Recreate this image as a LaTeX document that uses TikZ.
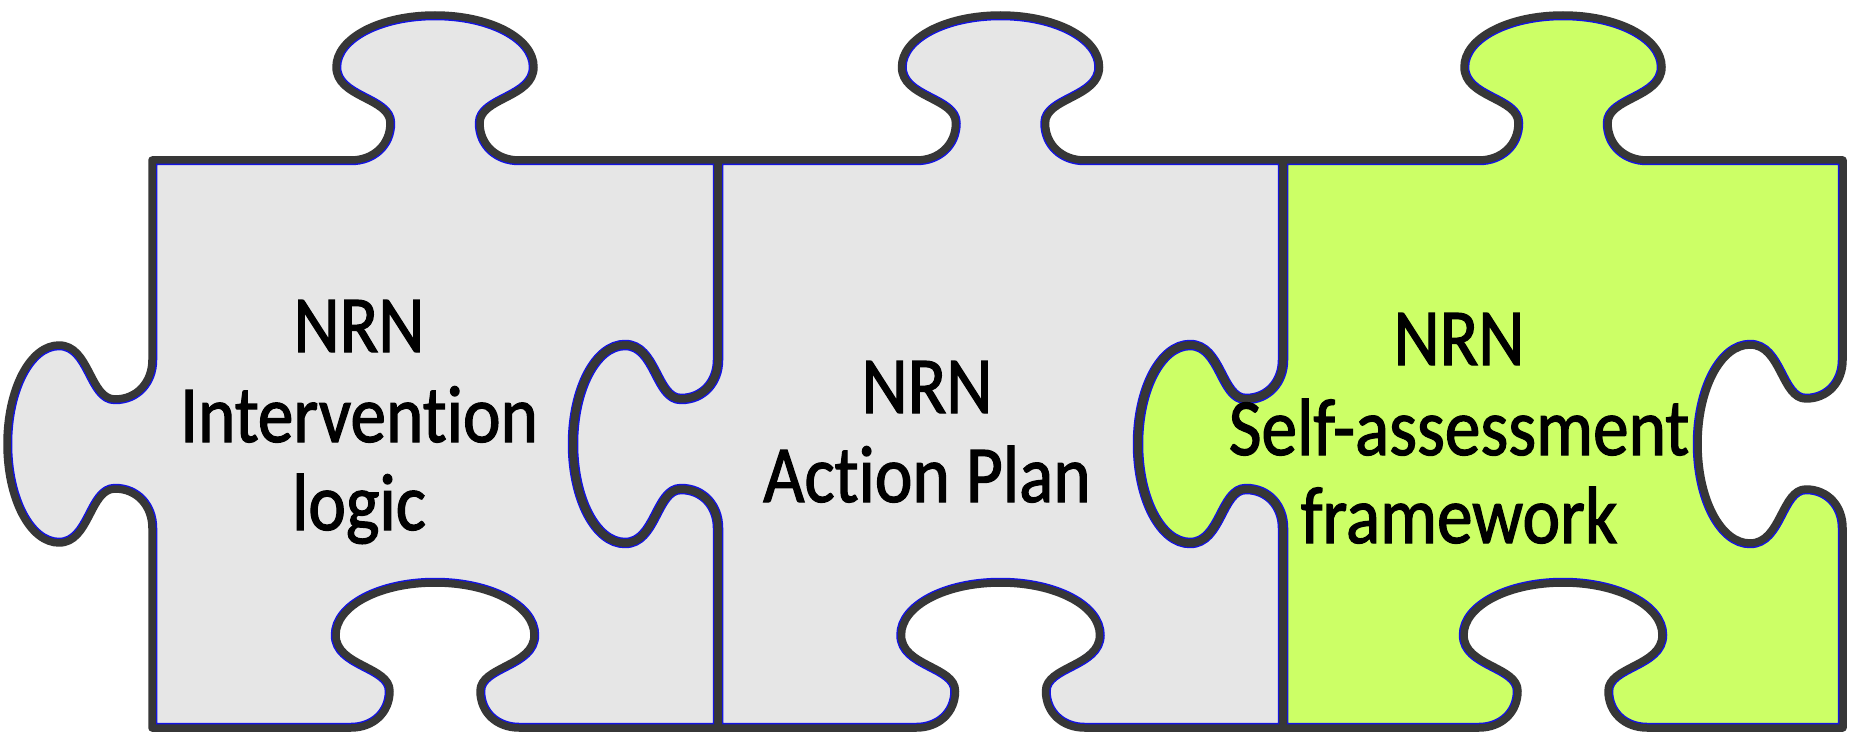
\documentclass[tikz,border=0pt]{standalone}
\usepackage{fontspec}
\setmainfont[Ligatures=NoCommon,FakeStretch=0.88,FakeBold=1.5]{Carlito}
\definecolor{piecegray}{RGB}{230,230,230}
\definecolor{piecegreen}{RGB}{204,255,102}
\definecolor{edgedark}{RGB}{55,55,55}
\definecolor{edgeblue}{RGB}{20,20,225}
\tikzset{
  pieceline/.style={draw=edgedark, line width=7.5pt, line join=round},
  blueline/.style={draw=edgeblue, line width=10.5pt, line join=round},
  lbl/.style={anchor=base, inner sep=0pt, text=black, font=\fontsize{81}{93}\selectfont}
}
\newcommand{\piecepath}{%
(0,0) -- ({\pcx-84},0)
.. controls ({\pcx-62},0) and ({\pcx-45},-15) .. ({\pcx-45},-37)
.. controls ({\pcx-45},-62) and ({\pcx-99},-62) .. ({\pcx-99},-93)
.. controls ({\pcx-99},-122) and ({\pcx-55},-145) .. (\pcx,-145)
.. controls ({\pcx+55},-145) and ({\pcx+99},-122) .. ({\pcx+99},-93)
.. controls ({\pcx+99},-62) and ({\pcx+45},-62) .. ({\pcx+45},-37)
.. controls ({\pcx+45},-15) and ({\pcx+62},0) .. ({\pcx+84},0)
-- (\pieceW,0)
-- (\pieceW,{\pcy-84})
.. controls (\pieceW,{\pcy-62}) and ({\pieceW-15},{\pcy-45}) .. ({\pieceW-37},{\pcy-45})
.. controls ({\pieceW-62},{\pcy-45}) and ({\pieceW-62},{\pcy-99}) .. ({\pieceW-93},{\pcy-99})
.. controls ({\pieceW-122},{\pcy-99}) and ({\pieceW-145},{\pcy-55}) .. ({\pieceW-145},\pcy)
.. controls ({\pieceW-145},{\pcy+55}) and ({\pieceW-122},{\pcy+99}) .. ({\pieceW-93},{\pcy+99})
.. controls ({\pieceW-62},{\pcy+99}) and ({\pieceW-62},{\pcy+45}) .. ({\pieceW-37},{\pcy+45})
.. controls ({\pieceW-15},{\pcy+45}) and (\pieceW,{\pcy+62}) .. (\pieceW,{\pcy+84})
-- (\pieceW,\pieceH)
-- ({\pcx+84},\pieceH)
.. controls ({\pcx+62},\pieceH) and ({\pcx+45},{\pieceH-15}) .. ({\pcx+45},{\pieceH-37})
.. controls ({\pcx+45},{\pieceH-62}) and ({\pcx+99},{\pieceH-62}) .. ({\pcx+99},{\pieceH-93})
.. controls ({\pcx+99},{\pieceH-122}) and ({\pcx+55},{\pieceH-145}) .. (\pcx,{\pieceH-145})
.. controls ({\pcx-55},{\pieceH-145}) and ({\pcx-99},{\pieceH-122}) .. ({\pcx-99},{\pieceH-93})
.. controls ({\pcx-99},{\pieceH-62}) and ({\pcx-45},{\pieceH-62}) .. ({\pcx-45},{\pieceH-37})
.. controls ({\pcx-45},{\pieceH-15}) and ({\pcx-62},\pieceH) .. ({\pcx-84},\pieceH)
-- (0,\pieceH)
-- (0,{\pcy+84})
.. controls (0,{\pcy+62}) and (-15,{\pcy+45}) .. (-37,{\pcy+45})
.. controls (-62,{\pcy+45}) and (-62,{\pcy+99}) .. (-93,{\pcy+99})
.. controls (-122,{\pcy+99}) and (-145,{\pcy+55}) .. (-145,\pcy)
.. controls (-145,{\pcy-55}) and (-122,{\pcy-99}) .. (-93,{\pcy-99})
.. controls (-62,{\pcy-99}) and (-62,{\pcy-45}) .. (-37,{\pcy-45})
.. controls (-15,{\pcy-45}) and (0,{\pcy-62}) .. (0,{\pcy-84})
-- cycle}
\newcommand{\drawpiece}[5]{%
\begin{scope}[shift={(#1,#2)}]
\def\pieceW{#3}\def\pieceH{#4}%
\pgfmathsetmacro\pcx{#3/2}\pgfmathsetmacro\pcy{#4/2}%
\fill[#5] \piecepath;
\begin{scope}\clip \piecepath; \draw[blueline] \piecepath; \end{scope}
\draw[pieceline] \piecepath;
\end{scope}}
\begin{document}
\begin{tikzpicture}[x=1pt,y=-1pt]
\useasboundingbox (0,0) rectangle (1861,733);
\fill[white] (0,0) rectangle (1861,733);
\drawpiece{152}{160}{566}{568}{piecegray}
\drawpiece{718}{160}{565}{568}{piecegray}
\drawpiece{1283}{160}{560}{568}{piecegreen}
\node[lbl] (t1a) at (359,352) {NRN};
\node[lbl] (t1b) at (359,442) {Intervention};
\node[lbl] (t1c) at (359,530) {logic};
\node[lbl] (t2a) at (927,413) {NRN};
\node[lbl] (t2b) at (927,502) {Action Plan};
\node[lbl] (t3a) at (1459,365) {NRN};
\node[lbl] (t3b) at (1459,455) {Self-assessment};
\node[lbl] (t3c) at (1459,543) {framework};
\end{tikzpicture}
\end{document}
